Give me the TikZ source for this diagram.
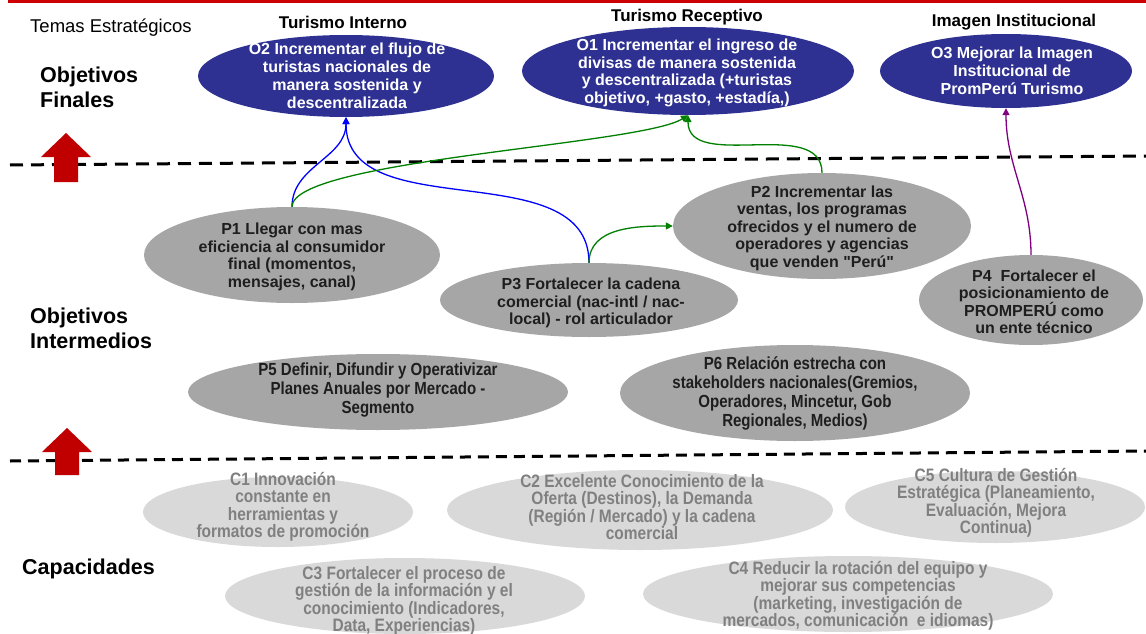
\documentclass[tikz,border=0pt]{standalone}
\usepackage{fontspec}
\setmainfont{Liberation Sans}
\newfontfamily\narrowfont[FakeStretch=0.86]{Liberation Sans}
\newfontfamily\qfont{Liberation Sans}
\usetikzlibrary{shapes.geometric,arrows.meta,calc}
\definecolor{navyfill}{HTML}{2E3192}
\definecolor{midfill}{HTML}{A6A6A6}
\definecolor{capfill}{HTML}{D9D9D9}
\definecolor{darktext}{HTML}{1E1E1E}
\definecolor{captext}{HTML}{808080}
\definecolor{topred}{HTML}{CC0000}
\definecolor{arrowred}{HTML}{C00000}
\definecolor{conblue}{HTML}{0000FF}
\definecolor{congreen}{HTML}{008000}
\definecolor{conpurple}{HTML}{800080}
\tikzset{
  oval/.style={ellipse, inner sep=0pt, draw=none},
  navyoval/.style={oval, fill=navyfill},
  midoval/.style={oval, fill=midfill},
  capoval/.style={oval, fill=capfill},
  otext/.style={align=center, text=white, inner sep=0pt, font=\bfseries\fontsize{16}{18}\selectfont},
  ptext/.style={align=center, text=darktext, inner sep=0pt, font=\bfseries\fontsize{16}{17.5}\selectfont},
  ntext/.style={align=center, text=darktext, inner sep=0pt, font=\narrowfont\bfseries\fontsize{17.5}{19}\selectfont},
  ctext/.style={align=center, text=captext, inner sep=0pt, font=\narrowfont\bfseries\fontsize{18}{17.5}\selectfont},
  themetitle/.style={inner sep=0pt, font=\bfseries\fontsize{17}{20}\selectfont},
  seclabel/.style={anchor=west, align=left, inner sep=0pt, font=\bfseries\fontsize{21.5}{25}\selectfont},
  divider/.style={line width=3pt, dash pattern=on 13pt off 8pt},
  divider2/.style={line width=3pt, dash pattern=on 11pt off 7pt},
  conn/.style={line width=1.3pt, -{Triangle[length=7pt,width=7pt]}},
  blueconn/.style={conn, draw=conblue},
  greenconn/.style={conn, draw=congreen},
  purpleconn/.style={conn, draw=conpurple},
}
\begin{document}
\begin{tikzpicture}[x=1pt,y=1pt]
\useasboundingbox (0,0) rectangle (1146,-634);
\fill[white] (0,0) rectangle (1146,-634);
% top red line
\fill[topred] (8,0) rectangle (1146,-3.5);

% dividers
\coordinate (d1a) at (10,-165);
\coordinate (d1b) at (1146,-156);
\coordinate (d2a) at (10,-461);
\coordinate (d2b) at (1146,-451);
\draw[divider] (d1a) -- (d1b);
\draw[divider2] (d2a) -- (d2b);

% red block arrows
\fill[arrowred] (66,-133) -- (91,-157) -- (78,-157) -- (78,-182) -- (54,-182) -- (54,-157) -- (41,-157) -- cycle;
\fill[arrowred] (67,-428) -- (92,-452) -- (79,-452) -- (79,-475) -- (55,-475) -- (55,-452) -- (42,-452) -- cycle;

% labels
\node[anchor=west, inner sep=0pt, font=\fontsize{18.5}{22}\selectfont] (temas) at (30,-28) {Temas Estratégicos};
\node[seclabel] (lfin) at (40,-87.5) {Objetivos\\Finales};
\node[seclabel] (lint) at (30,-328) {Objetivos\\Intermedios};
\node[seclabel] (lcap) at (22,-569) {Capacidades};

% theme titles
\node[themetitle] (t1) at (343,-22) {Turismo Interno};
\node[themetitle] (t2) at (687,-17) {Turismo Receptivo};
\node[themetitle] (t3) at (1014,-22) {Imagen Institucional};

% final objectives
\node[navyoval, minimum width=296pt, minimum height=82pt] (O2) at (346,-76) {};
\node[otext] (O2t) at (347,-76) {O2 Incrementar el flujo de\\turistas nacionales de\\manera sostenida y\\descentralizada};
\node[navyoval, minimum width=332pt, minimum height=88pt] (O1) at (688,-71) {};
\node[otext, font=\bfseries\fontsize{16}{17.5}\selectfont] (O1t) at (687,-73) {O1 Incrementar el ingreso de\\divisas de manera sostenida\\y descentralizada (+turistas\\objetivo, +gasto, +estadía,)};
\node[navyoval, minimum width=252pt, minimum height=74pt] (O3) at (1006,-71) {};
\node[otext] (O3t) at (1012,-71) {O3 Mejorar la Imagen\\Institucional de\\PromPerú Turismo};

% intermediate objectives
\node[midoval, minimum width=296pt, minimum height=96pt] (P1) at (292,-255) {};
\node[ptext] (P1t) at (292,-257) {P1 Llegar con mas\\eficiencia al consumidor\\final (momentos,\\mensajes, canal)};
\node[midoval, minimum width=298pt, minimum height=74pt] (P3) at (589,-300) {};
\node[ptext] (P3t) at (591,-303) {P3 Fortalecer la cadena\\comercial (nac-intl / nac-\\local) - rol articulador};
\node[midoval, minimum width=298pt, minimum height=106pt] (P2) at (822,-226) {};
\node[ptext] (P2t) at (822,-228) {P2 Incrementar las\\ventas, los programas\\ofrecidos y el numero de\\operadores y agencias\\que venden {\qfont"}Perú{\qfont"}};
\node[midoval, minimum width=224pt, minimum height=90pt] (P4) at (1031,-300) {};
\node[ptext] (P4t) at (1034,-302) {P4\ \ Fortalecer el\\posicionamiento de\\PROMPERÚ como\\un ente técnico};
\node[midoval, minimum width=380pt, minimum height=76pt] (P5) at (378,-392) {};
\node[ntext] (P5t) at (378,-390) {P5 Definir, Difundir y Operativizar\\Planes Anuales por Mercado -\\Segmento};
\node[midoval, minimum width=350pt, minimum height=96pt] (P6) at (795,-393) {};
\node[ntext] (P6t) at (795,-393) {P6 Relación estrecha con\\stakeholders nacionales(Gremios,\\Operadores, Mincetur, Gob\\Regionales, Medios)};

% capabilities
\node[capoval, minimum width=270pt, minimum height=70pt] (C1) at (278,-512) {};
\node[ctext] (C1t) at (283,-507) {C1 Innovación\\constante en\\herramientas y\\formatos de promoción};
\node[capoval, minimum width=386pt, minimum height=80pt] (C2) at (640,-510) {};
\node[ctext] (C2t) at (642,-507) {C2 Excelente Conocimiento de la\\Oferta (Destinos), la Demanda\\(Región / Mercado) y la cadena\\comercial};
\node[capoval, minimum width=300pt, minimum height=72pt] (C5) at (995,-507) {};
\node[ctext] (C5t) at (996,-503) {C5 Cultura de Gestión\\Estratégica (Planeamiento,\\Evaluación, Mejora\\Continua)};
\node[capoval, minimum width=360pt, minimum height=76pt] (C3) at (405,-596) {};
\node[ctext] (C3t) at (404,-601) {C3 Fortalecer el proceso de\\gestión de la información y el\\conocimiento (Indicadores,\\Data, Experiencias)};
\node[capoval, minimum width=410pt, minimum height=76pt] (C4) at (848,-594) {};
\node[ctext] (C4t) at (858,-596) {C4 Reducir la rotación del equipo y\\mejorar sus competencias\\(marketing, investigación de\\mercados, comunicación\ \ e idiomas)};

% connectors
\draw[blueconn] (P1.north) to[out=90,in=-90] (O2.south);
\draw[blueconn] (P3.north) to[out=90,in=-90] (O2.south);
\draw[greenconn] (P1.north) .. controls ($(P1.north)+(0,47)$) and ($(O1.south)+(-47,-30)$) .. (O1.south);
\draw[greenconn] (P2.north) to[out=90,in=-90] (O1.south);
\draw[greenconn] (P3.north) to[out=90,in=180] (P2.west);
\draw[purpleconn] (P4.north) to[out=90,in=-90] (O3.south);
\end{tikzpicture}
\end{document}
